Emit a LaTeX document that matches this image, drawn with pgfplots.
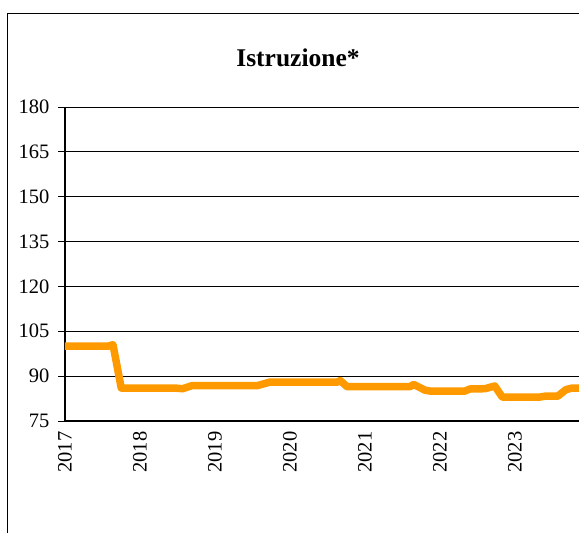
\documentclass[border=0pt]{standalone}
\usepackage{pgfplots}
\pgfplotsset{compat=1.18}
\usepackage{fontspec}
\setmainfont{Liberation Serif}
\definecolor{lineorange}{RGB}{255,153,0}
\begin{document}
\begin{tikzpicture}[x=1pt,y=1pt]
\path[use as bounding box] (0,0) rectangle (579,533);
\clip (0,0) rectangle (579,533);
\draw[black, line width=1pt] (7.5,-10) -- (7.5,519.5) -- (600,519.5);
\node[font=\fontsize{25.5}{30}\selectfont\bfseries] at (298,475) {Istruzione*};
\begin{axis}[
  at={(65pt,112pt)}, anchor=south west,
  scale only axis, width=525pt, height=314pt,
  xmin=2017, xmax=2024, ymin=75, ymax=180,
  ytick={75,90,...,180},
  xtick={2017,2018,...,2023},
  axis x line*=bottom, axis y line*=left,
  axis line style={black, line width=1.2pt, -},
  ymajorgrids, grid style={black, line width=0.8pt},
  tick align=outside, major tick length=7pt,
  ytick style={black, line width=0.8pt},
  xtick style={draw=none},
  /pgf/number format/1000 sep={},
  /pgf/number format/assume math mode=true,
  ticklabel style={font=\fontsize{20.5}{24}\selectfont},
  yticklabel style={xshift=-5pt},
  xticklabel style={rotate=90, anchor=east},
  clip=false,
]
\addplot[lineorange, line width=7.5pt, line join=round, line cap=butt] coordinates {
(2017.00,100) (2017.57,100) (2017.64,100.5) (2017.75,86) (2018.47,86) (2018.57,85.8)
(2018.69,86.8) (2019.56,86.8) (2019.73,88) (2020.63,88) (2020.67,88.5) (2020.76,86.5)
(2021.60,86.5) (2021.65,87.2) (2021.80,85.3) (2021.87,85) (2022.33,85) (2022.40,85.7)
(2022.60,85.8) (2022.73,86.7) (2022.83,83) (2023.33,83) (2023.40,83.3) (2023.57,83.3)
(2023.68,85.5) (2023.76,86) (2024.0,86)
};
\end{axis}
\end{tikzpicture}
\end{document}
